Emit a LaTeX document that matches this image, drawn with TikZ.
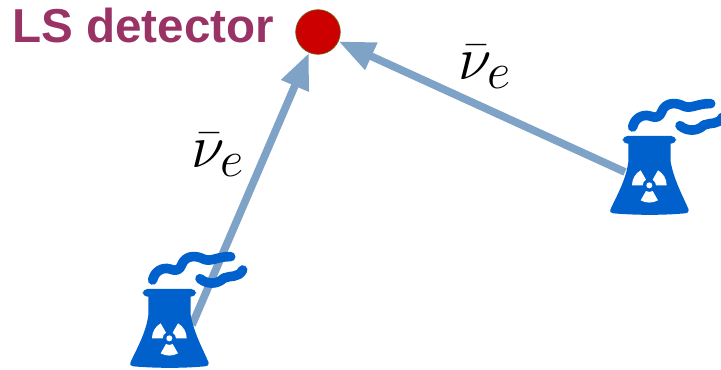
\documentclass[tikz,border=0pt]{standalone}
\usepackage{graphicx}
\usepackage{fontspec}
\setmainfont{Liberation Sans}
\usetikzlibrary{arrows.meta}
\definecolor{reactorblue}{HTML}{0060CC}
\definecolor{beamblue}{HTML}{7FA3C7}
\definecolor{detred}{HTML}{CC0000}
\definecolor{labelpurple}{HTML}{993366}
\tikzset{
  beam/.style={draw=beamblue,line width=5.8pt,-{Triangle[length=27pt,width=21pt,fill=beamblue]}},
  detector/.style={circle,fill=detred,draw=olive!70!black,line width=0.5pt,minimum size=33.5pt,inner sep=0pt},
  title/.style={inner sep=0pt,anchor=base west,text=labelpurple,font=\fontsize{35.7}{40}\selectfont\bfseries},
  nulabel/.style={inner sep=0pt},
  smoke/.style={draw=reactorblue,line width=7.2pt,line cap=round,line join=round},
  reactor/.pic={
    \begin{scope}[x=0.25pt,y=-0.25pt]
      \path[smoke] (98,120) .. controls (103,96) and (125,80) .. (150,87) .. controls (170,94) and (178,92) .. (186,72) .. controls (196,48) and (225,44) .. (250,57) .. controls (272,68) and (295,48) .. (332,50);
      \path[smoke] (240,116) .. controls (262,134) and (292,134) .. (312,114) .. controls (332,106) and (356,114) .. (368,90);
      \fill[reactorblue,rounded corners=3.5pt] (68,147) -- (228,147) -- (228,170) -- (68,170) -- cycle;
      \fill[reactorblue] (85,160) -- (212,160) -- (212,225) .. controls (222,280) and (250,330) .. (266,368) .. controls (268,376) and (262,378) .. (255,379) .. controls (190,385) and (110,385) .. (40,379) .. controls (32,378) and (28,374) .. (31,368) .. controls (48,330) and (78,280) .. (85,225) -- cycle;
      \fill[white] (148,295) circle[radius=9];
      \fill[white] (96,295) .. controls (96,276) and (106,259) .. (122,250) -- (138,278) .. controls (132,282) and (128,288) .. (128,295) -- cycle;
      \fill[white] (200,295) .. controls (200,276) and (190,259) .. (174,250) -- (158,278) .. controls (164,282) and (168,288) .. (168,295) -- cycle;
      \fill[white] (122,340) .. controls (138,349) and (158,349) .. (174,340) -- (158,312) .. controls (152,316) and (144,316) .. (138,312) -- cycle;
    \end{scope}
  }
}
\begin{document}
\begin{tikzpicture}[x=0.75pt,y=-0.75pt]
  \useasboundingbox (0,0) rectangle (721,370);
  \node[detector] (det) at (318,32) {};
  \node[title] (lab) at (12,43) {LS detector};
  \coordinate (src1) at (192,325);
  \coordinate (src2) at (625,172);
  \draw[beam] (src1) -- (det);
  \draw[beam] (src2) -- (det);
  \pic at (120,240) {reactor};
  \pic at (600,87) {reactor};
  \node[nulabel] (nu1) at (218,155) {\scalebox{1.84}{\fontsize{24.88}{30}\selectfont$\bar{\nu}_e$}};
  \node[nulabel] (nu2) at (485,67) {\scalebox{1.84}{\fontsize{24.88}{30}\selectfont$\bar{\nu}_e$}};
\end{tikzpicture}
\end{document}
